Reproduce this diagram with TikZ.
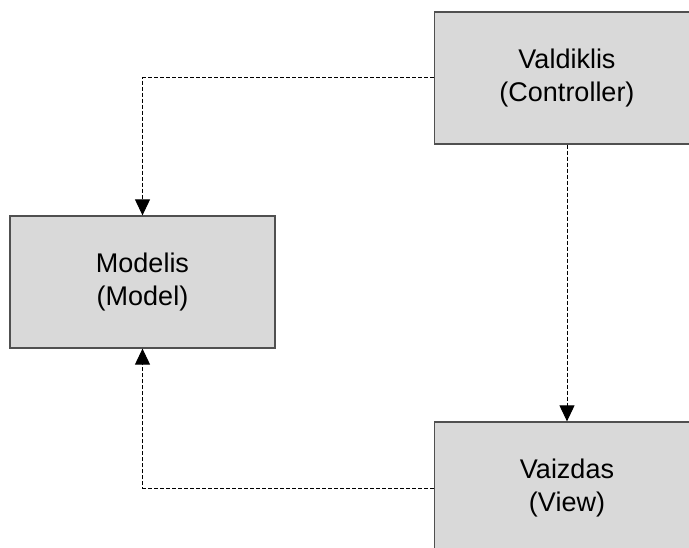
\documentclass[tikz,border=0pt]{standalone}
\usepackage{fontspec}
\setmainfont{Liberation Sans}
\usetikzlibrary{arrows.meta}
\definecolor{boxfill}{HTML}{D9D9D9}
\definecolor{boxline}{HTML}{505050}
\begin{document}
\begin{tikzpicture}[x=1pt,y=-1pt,
  block/.style={draw=boxline, fill=boxfill, line width=1.3pt, rectangle,
    minimum width=265pt, minimum height=132pt, inner sep=0pt,
    align=center, font=\fontsize{27}{32.5}\selectfont},
  flow/.style={draw=black, line width=1pt, dash pattern=on 4pt off 2pt,
    -{Triangle[length=16pt,width=15pt]}}]
  \clip (0,0) rectangle (689,548);
  \fill[white] (0,0) rectangle (689,548);
  % the three MVC parts
  \node[block] (ctrl)  at (567,78)    {Valdiklis\\(Controller)};
  \node[block] (model) at (142.5,282) {Modelis\\(Model)};
  \node[block] (view)  at (567,488)   {Vaizdas\\(View)};
  % dependencies between them
  \draw[flow] (ctrl.west) -| (model.north);
  \draw[flow] (ctrl.south) -- (view.north);
  \draw[flow] (view.west) -| (model.south);
\end{tikzpicture}
\end{document}
